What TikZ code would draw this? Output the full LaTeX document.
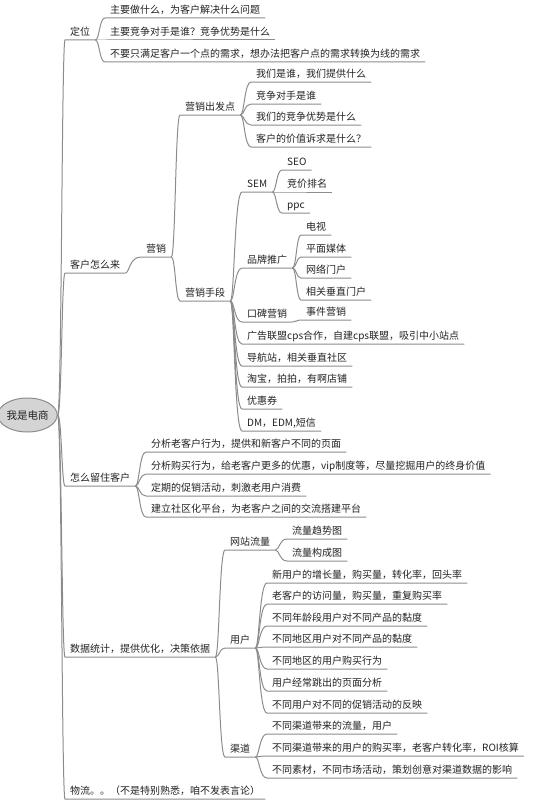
\documentclass[tikz,border=0pt]{standalone}
\usepackage{fontspec}
\setmainfont{Noto Sans CJK SC}
\usetikzlibrary{shapes.geometric}
\definecolor{linecol}{HTML}{8C8C8C}
\definecolor{txt}{HTML}{222222}
\definecolor{rootfill}{HTML}{D4D4D4}
\newcommand\mmlink[2]{\draw[conn] (#1.south east) to (#2.south west) -- (#2.south east);}
\newcommand\mmroot[1]{\draw[conn] (root.east) to (#1.south west) -- (#1.south east);}
\begin{document}
\begin{tikzpicture}[x=1pt,y=-1pt,
  tp/.style={anchor=south west, inner xsep=5pt, inner ysep=1.5pt, text height=8pt, text depth=2.5pt, font=\fontsize{10}{12}\selectfont, text=txt},
  conn/.style={draw=linecol, line width=1pt, to path={.. controls ([xshift=4pt]\tikztostart) and ([xshift=4pt]\tikztostart |- \tikztotarget) .. (\tikztotarget)}},
  rootnode/.style={ellipse, draw=linecol, line width=1pt, fill=rootfill, minimum width=51pt, minimum height=34pt, inner sep=0pt, font=\fontsize{10.5}{12}\selectfont, text=txt}
]
\useasboundingbox (0,0) rectangle (540,800);
\node[rootnode] (root) at (27.5,415) {我是电商};
% level 1
\node[tp] (dw) at (65,40) {定位};
\node[tp] (kh) at (65,273) {客户怎么来};
\node[tp] (lz) at (65,486) {怎么留住客户};
\node[tp] (sj) at (65,657) {数据统计，提供优化，决策依据};
\node[tp] (wl) at (65,799) {物流。。（不是特别熟悉，咱不发表言论）};
% dingwei
\node[tp] (d1) at (105,18) {主要做什么，为客户解决什么问题};
\node[tp] (d2) at (105,40) {主要竞争对手是谁？竞争优势是什么};
\node[tp] (d3) at (105,62) {不要只满足客户一个点的需求，想办法把客户点的需求转换为线的需求};
% yingxiao
\node[tp] (yx) at (141,257) {营销};
\node[tp] (cf) at (180,115) {营销出发点};
\node[tp] (sd) at (180,301) {营销手段};
\node[tp] (c1) at (251,82) {我们是谁，我们提供什么};
\node[tp] (c2) at (251,104) {竞争对手是谁};
\node[tp] (c3) at (251,125) {我们的竞争优势是什么};
\node[tp] (c4) at (251,147) {客户的价值诉求是什么？};
\node[tp] (sem) at (242,192) {SEM};
\node[tp] (pp) at (242,268) {品牌推广};
\node[tp] (kb) at (242,322) {口碑营销};
\node[tp] (gg) at (242,344) {广告联盟cps合作，自建cps联盟，吸引中小站点};
\node[tp] (dh) at (242,366) {导航站，相关垂直社区};
\node[tp] (tb) at (242,387) {淘宝，拍拍，有啊店铺};
\node[tp] (yh) at (242,409) {优惠券};
\node[tp] (dm) at (242,431) {DM，EDM,短信};
\node[tp] (seo) at (282,170) {SEO};
\node[tp] (jj) at (282,192) {竞价排名};
\node[tp] (ppc) at (282,213) {ppc};
\node[tp] (ds) at (301,235) {电视};
\node[tp] (pm) at (301,257) {平面媒体};
\node[tp] (wm) at (301,278) {网络门户};
\node[tp] (xg) at (301,300) {相关垂直门户};
\node[tp] (sjyx) at (301,320) {事件营销};
% liuzhu
\node[tp] (l1) at (146,452) {分析老客户行为，提供和新客户不同的页面};
\node[tp] (l2) at (146,474) {分析购买行为，给老客户更多的优惠，vip制度等，尽量挖掘用户的终身价值};
\node[tp] (l3) at (146,496) {定期的促销活动，刺激老用户消费};
\node[tp] (l4) at (146,517) {建立社区化平台，为老客户之间的交流搭建平台};
% shuju
\node[tp] (ll) at (225,550) {网站流量};
\node[tp] (yhu) at (225,648) {用户};
\node[tp] (qd) at (225,757) {渠道};
\node[tp] (t1) at (287,539) {流量趋势图};
\node[tp] (t2) at (287,561) {流量构成图};
\node[tp] (u1) at (267,583) {新用户的增长量，购买量，转化率，回头率};
\node[tp] (u2) at (267,604) {老客户的访问量，购买量，重复购买率};
\node[tp] (u3) at (267,626) {不同年龄段用户对不同产品的黏度};
\node[tp] (u4) at (267,647) {不同地区用户对不同产品的黏度};
\node[tp] (u5) at (267,669) {不同地区的用户购买行为};
\node[tp] (u6) at (267,691) {用户经常跳出的页面分析};
\node[tp] (u7) at (267,713) {不同用户对不同的促销活动的反映};
\node[tp] (q1) at (267,734) {不同渠道带来的流量，用户};
\node[tp] (q2) at (267,756) {不同渠道带来的用户的购买率，老客户转化率，ROI核算};
\node[tp] (q3) at (267,778) {不同素材，不同市场活动，策划创意对渠道数据的影响};
% connectors
\mmroot{dw} \mmroot{kh} \mmroot{lz} \mmroot{sj} \mmroot{wl}
\mmlink{dw}{d1} \mmlink{dw}{d2} \mmlink{dw}{d3}
\mmlink{kh}{yx}
\mmlink{yx}{cf} \mmlink{yx}{sd}
\mmlink{cf}{c1} \mmlink{cf}{c2} \mmlink{cf}{c3} \mmlink{cf}{c4}
\mmlink{sd}{sem} \mmlink{sd}{pp} \mmlink{sd}{kb} \mmlink{sd}{gg} \mmlink{sd}{dh} \mmlink{sd}{tb} \mmlink{sd}{yh} \mmlink{sd}{dm}
\mmlink{sem}{seo} \mmlink{sem}{jj} \mmlink{sem}{ppc}
\mmlink{pp}{ds} \mmlink{pp}{pm} \mmlink{pp}{wm} \mmlink{pp}{xg}
\mmlink{kb}{sjyx}
\mmlink{lz}{l1} \mmlink{lz}{l2} \mmlink{lz}{l3} \mmlink{lz}{l4}
\mmlink{sj}{ll} \mmlink{sj}{yhu} \mmlink{sj}{qd}
\mmlink{ll}{t1} \mmlink{ll}{t2}
\mmlink{yhu}{u1} \mmlink{yhu}{u2} \mmlink{yhu}{u3} \mmlink{yhu}{u4} \mmlink{yhu}{u5} \mmlink{yhu}{u6} \mmlink{yhu}{u7}
\mmlink{qd}{q1} \mmlink{qd}{q2} \mmlink{qd}{q3}
\end{tikzpicture}
\end{document}
